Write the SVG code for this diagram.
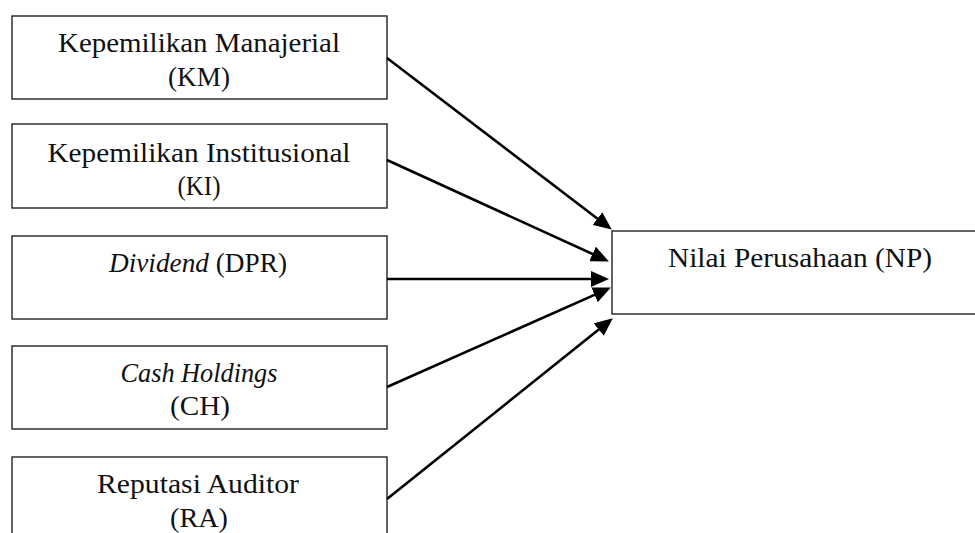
<svg xmlns="http://www.w3.org/2000/svg" width="975" height="533" viewBox="0 0 975 533">
<style>
.box{fill:#fff;stroke:#222;stroke-width:1.4}
.t{font-family:"Liberation Serif","Times New Roman",serif;font-size:26.5px;fill:#111;text-anchor:middle}
.i{font-style:italic}
.c{stroke:#000;stroke-width:2.6;fill:none}
</style>
<defs>
<marker id="ah" markerUnits="userSpaceOnUse" markerWidth="18" markerHeight="16" refX="8" refY="8" orient="auto" viewBox="0 0 18 16">
<path d="M0,0 L18,8 L0,16 Z" fill="#000"/>
</marker>
</defs>
<rect width="975" height="533" fill="#fff"/>
<g id="km">
<rect class="box" x="12" y="16" width="375" height="83"/>
<text class="t" x="199" y="52" textLength="282" lengthAdjust="spacingAndGlyphs">Kepemilikan Manajerial</text>
<text class="t" x="199" y="86" textLength="62" lengthAdjust="spacingAndGlyphs">(KM)</text>
</g>
<g id="ki">
<rect class="box" x="12" y="124" width="375" height="84"/>
<text class="t" x="199" y="162" textLength="303" lengthAdjust="spacingAndGlyphs">Kepemilikan Institusional</text>
<text class="t" x="199" y="195" textLength="43" lengthAdjust="spacingAndGlyphs">(KI)</text>
</g>
<g id="dpr">
<rect class="box" x="12" y="236" width="375" height="83"/>
<text class="t" x="198" y="272" textLength="178" lengthAdjust="spacingAndGlyphs"><tspan class="i">Dividend</tspan> (DPR)</text>
</g>
<g id="ch">
<rect class="box" x="12" y="346" width="375" height="83"/>
<text class="t" x="199" y="382" textLength="157" lengthAdjust="spacingAndGlyphs"><tspan class="i">Cash Holdings</tspan></text>
<text class="t" x="200" y="415" textLength="60" lengthAdjust="spacingAndGlyphs">(CH)</text>
</g>
<g id="ra">
<rect class="box" x="12" y="457" width="375" height="90"/>
<text class="t" x="198" y="493" textLength="202" lengthAdjust="spacingAndGlyphs">Reputasi Auditor</text>
<text class="t" x="199" y="527" textLength="58" lengthAdjust="spacingAndGlyphs">(RA)</text>
</g>
<g id="np">
<rect class="box" x="612" y="231" width="380" height="83"/>
<text class="t" x="800" y="267" textLength="264" lengthAdjust="spacingAndGlyphs">Nilai Perusahaan (NP)</text>
</g>
<g id="connectors">
<line class="c" x1="387" y1="58" x2="603.8" y2="223.5" marker-end="url(#ah)"/>
<line class="c" x1="387" y1="160" x2="599.8" y2="257.3" marker-end="url(#ah)"/>
<line class="c" x1="387" y1="279" x2="599" y2="279" marker-end="url(#ah)"/>
<line class="c" x1="387" y1="387" x2="601.8" y2="291.6" marker-end="url(#ah)"/>
<line class="c" x1="387" y1="499" x2="605" y2="324.6" marker-end="url(#ah)"/>
</g>
</svg>
